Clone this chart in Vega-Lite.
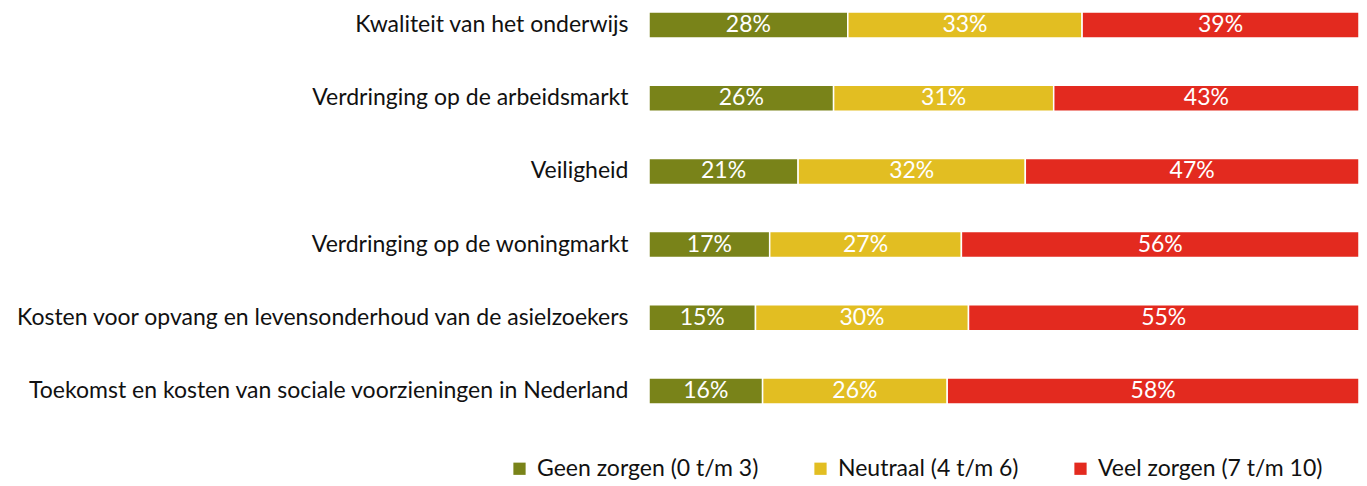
{
  "$schema": "https://vega.github.io/schema/vega-lite/v6.json",
  "autosize": {"type": "none"},
  "padding": {"left": 649, "top": 0, "right": 8, "bottom": 70},
  "width": 710,
  "height": 416,
  "background": "white",
  "config": {"view": {"stroke": null}, "font": "Lato"},
  "data": {"values": [
    {"item": "Kwaliteit van het onderwijs", "cat": "Geen zorgen (0 t/m 3)", "value": 28},
    {"item": "Kwaliteit van het onderwijs", "cat": "Neutraal (4 t/m 6)", "value": 33},
    {"item": "Kwaliteit van het onderwijs", "cat": "Veel zorgen (7 t/m 10)", "value": 39},
    {"item": "Verdringing op de arbeidsmarkt", "cat": "Geen zorgen (0 t/m 3)", "value": 26},
    {"item": "Verdringing op de arbeidsmarkt", "cat": "Neutraal (4 t/m 6)", "value": 31},
    {"item": "Verdringing op de arbeidsmarkt", "cat": "Veel zorgen (7 t/m 10)", "value": 43},
    {"item": "Veiligheid", "cat": "Geen zorgen (0 t/m 3)", "value": 21},
    {"item": "Veiligheid", "cat": "Neutraal (4 t/m 6)", "value": 32},
    {"item": "Veiligheid", "cat": "Veel zorgen (7 t/m 10)", "value": 47},
    {"item": "Verdringing op de woningmarkt", "cat": "Geen zorgen (0 t/m 3)", "value": 17},
    {"item": "Verdringing op de woningmarkt", "cat": "Neutraal (4 t/m 6)", "value": 27},
    {"item": "Verdringing op de woningmarkt", "cat": "Veel zorgen (7 t/m 10)", "value": 56},
    {"item": "Kosten voor opvang en levensonderhoud van de asielzoekers", "cat": "Geen zorgen (0 t/m 3)", "value": 15},
    {"item": "Kosten voor opvang en levensonderhoud van de asielzoekers", "cat": "Neutraal (4 t/m 6)", "value": 30},
    {"item": "Kosten voor opvang en levensonderhoud van de asielzoekers", "cat": "Veel zorgen (7 t/m 10)", "value": 55},
    {"item": "Toekomst en kosten van sociale voorzieningen in Nederland", "cat": "Geen zorgen (0 t/m 3)", "value": 16},
    {"item": "Toekomst en kosten van sociale voorzieningen in Nederland", "cat": "Neutraal (4 t/m 6)", "value": 26},
    {"item": "Toekomst en kosten van sociale voorzieningen in Nederland", "cat": "Veel zorgen (7 t/m 10)", "value": 58}
  ]},
  "transform": [
    {"stack": "value", "groupby": ["item"], "sort": [{"field": "cat", "order": "ascending"}], "as": ["x0", "x1"]},
    {"calculate": "(datum.x0 + datum.x1) / 2", "as": "mid"},
    {"calculate": "datum.value + '%'", "as": "label"}
  ],
  "encoding": {
    "y": {
      "field": "item", "type": "nominal", "sort": null, "title": null,
      "scale": {"paddingInner": 0.645, "paddingOuter": 0.164},
      "axis": {"domain": false, "ticks": false, "labelPadding": 21, "labelFontSize": 23, "labelColor": "#111111", "labelFont": "Lato", "labelLimit": 700}
    }
  },
  "layer": [
    {
      "mark": {"type": "bar", "stroke": "white", "strokeWidth": 1.5},
      "encoding": {
        "x": {"field": "x0", "type": "quantitative", "scale": {"domain": [0, 100], "nice": false}, "axis": null},
        "x2": {"field": "x1"},
        "color": {
          "field": "cat", "type": "nominal",
          "scale": {"domain": ["Geen zorgen (0 t/m 3)", "Neutraal (4 t/m 6)", "Veel zorgen (7 t/m 10)"], "range": ["#798319", "#e2be22", "#e32a1f"]},
          "legend": {
            "title": null, "orient": "none", "direction": "horizontal",
            "legendX": -141, "legendY": 457,
            "symbolType": "square", "symbolSize": 150, "symbolStrokeWidth": 0,
            "labelFontSize": 23, "labelFont": "Lato", "labelColor": "#111111",
            "columnPadding": 50, "labelOffset": 6, "labelLimit": 400
          }
        }
      }
    },
    {
      "mark": {"type": "text", "color": "white", "fontSize": 23, "font": "Lato", "baseline": "middle", "align": "center"},
      "encoding": {
        "x": {"field": "mid", "type": "quantitative"},
        "text": {"field": "label", "type": "nominal"}
      }
    }
  ]
}
